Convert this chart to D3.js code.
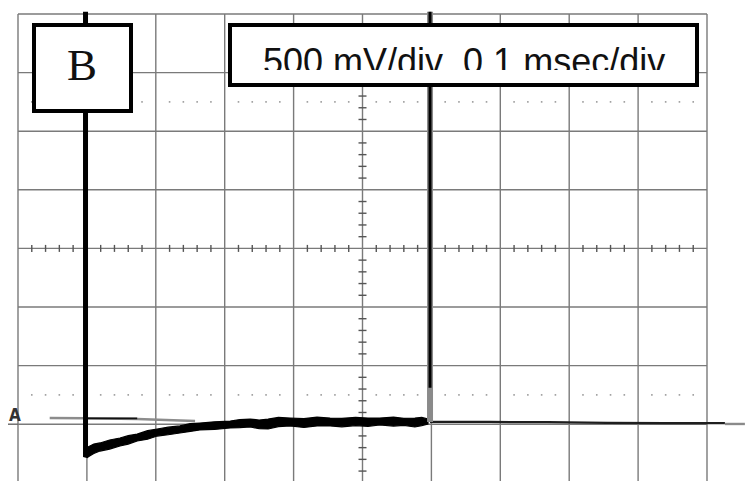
<!DOCTYPE html>
<html><head><meta charset="utf-8">
<script src="https://cdn.jsdelivr.net/npm/d3@7"></script>
<style>html,body{margin:0;padding:0;background:#fff;}svg{display:block;}</style>
</head><body>
<svg id="c" width="745" height="481"></svg>
<script>
// ---- data (time in ms, voltage in V; 500 mV/div, 0.1 ms/div) ----
const stepTime = 0.098;      // falling edge of trace B
const spikeTime = 0.598;     // second spike
const topV = 3.52;           // trace goes off the top of the screen
const stepMinV = -0.28;      // bottom of the negative step
const spikeCoreStartV = 0.31;

// noisy recovery band (upper / lower envelope)
const decayT = [0.1016, 0.110, 0.119, 0.133, 0.148, 0.160, 0.173, 0.188, 0.202, 0.218, 0.235, 0.250, 0.264, 0.285, 0.308, 0.322, 0.337, 0.350, 0.363, 0.378, 0.395, 0.415, 0.434, 0.453, 0.470, 0.490, 0.508, 0.525, 0.545, 0.560, 0.576, 0.586, 0.595];
const decayUpper = [-0.195, -0.170, -0.160, -0.135, -0.118, -0.098, -0.084, -0.055, -0.041, -0.025, -0.015, 0.005, 0.010, 0.020, 0.027, 0.040, 0.044, 0.036, 0.044, 0.058, 0.053, 0.048, 0.060, 0.053, 0.050, 0.058, 0.052, 0.053, 0.060, 0.050, 0.053, 0.058, 0.044];
const decayLower = [-0.280, -0.250, -0.229, -0.212, -0.186, -0.170, -0.143, -0.128, -0.101, -0.090, -0.075, -0.062, -0.049, -0.045, -0.032, -0.030, -0.024, -0.038, -0.041, -0.020, -0.015, -0.028, -0.015, -0.015, -0.022, -0.012, -0.018, -0.007, -0.016, -0.010, -0.024, -0.012, 0.002];

// trace after the spike
const afterT = [0.598, 0.685, 0.769, 0.855, 0.939, 1.026];
const afterV = [0.019, 0.019, 0.017, 0.012, 0.010, 0.010];
const tailT = [1.026, 1.055];
const tailV = [0.002, 0.002];

// reference baseline (gray) and its dark section
const refT = [0.046, 0.098, 0.173, 0.257];
const refV = [0.053, 0.051, 0.045, 0.027];
const refDarkT = [0.098, 0.173];
const refDarkV = [0.050, 0.050];

const groundV = 0;
const cursorV = [0.25, 2.75];   // dotted 0% / 100% lines
const labelB = "B";
const scaleLabel = "500 mV/div  0.1 msec/div";
const markerLabel = "A";

// ---- scales ----
const svg = d3.select("#c");
const x = d3.scaleLinear().domain([0, 1]).range([18, 707]);
const y = d3.scaleLinear().domain([-0.5, 3.5]).range([482.8, 14]);
const xDiv = d3.range(0, 1.0001, 0.1);
const yDiv = d3.range(-0.5, 3.5001, 0.5);
const xMinor = d3.range(0, 1.0001, 0.02);
const yMinor = d3.range(-0.5, 3.5001, 0.1);
const gridCol = "#7a7a7a";

// grid
const g = svg.append("g");
g.selectAll(".vx").data(xDiv).join("line")
  .attr("x1", d => x(d)).attr("x2", d => x(d)).attr("y1", y(3.5)).attr("y2", 481)
  .attr("stroke", gridCol).attr("stroke-width", 1.4);
g.selectAll(".hy").data(yDiv).join("line")
  .attr("y1", d => y(d)).attr("y2", d => y(d)).attr("x1", x(0)).attr("x2", x(1))
  .attr("stroke", gridCol).attr("stroke-width", 1.4);

// dotted cursor lines
cursorV.forEach(v => {
  g.selectAll(null).data(xMinor.filter((d, i) => i % 5 !== 0)).join("rect")
    .attr("x", d => x(d) - 0.8).attr("y", y(v) - 0.8).attr("width", 1.6).attr("height", 1.6)
    .attr("fill", "#9a9a9a");
});

// center axes minor ticks
g.selectAll(null).data(xMinor.filter((d, i) => i % 5 !== 0)).join("line")
  .attr("x1", d => x(d)).attr("x2", d => x(d)).attr("y1", y(1.5) - 3.5).attr("y2", y(1.5) + 3.5)
  .attr("stroke", "#555").attr("stroke-width", 1.4);
g.selectAll(null).data(yMinor.filter((d, i) => i % 5 !== 0)).join("line")
  .attr("y1", d => y(d)).attr("y2", d => y(d)).attr("x1", x(0.5) - 4).attr("x2", x(0.5) + 4)
  .attr("stroke", "#555").attr("stroke-width", 1.4);

// ground marker
svg.append("text").attr("x", 15).attr("y", 421).attr("text-anchor", "middle")
  .attr("font-family", "DejaVu Sans Condensed, DejaVu Sans, sans-serif").attr("font-size", 17).attr("font-weight", "bold")
  .attr("fill", "#333").text(markerLabel);
svg.append("line").attr("x1", 8).attr("x2", x(0)).attr("y1", y(groundV)).attr("y2", y(groundV))
  .attr("stroke", "#666").attr("stroke-width", 1.4);

// reference trace
const line = d3.line().x(d => x(d[0])).y(d => y(d[1]));
svg.append("path").attr("d", line(d3.zip(refT, refV))).attr("fill", "none")
  .attr("stroke", "#8c8c8c").attr("stroke-width", 2.4);
svg.append("path").attr("d", line(d3.zip(refDarkT, refDarkV))).attr("fill", "none")
  .attr("stroke", "#111").attr("stroke-width", 1.6);

// trace after spike
svg.append("path").attr("d", line(d3.zip(afterT, afterV))).attr("fill", "none")
  .attr("stroke", "#1e1e1e").attr("stroke-width", 2.2);
svg.append("path").attr("d", line(d3.zip(tailT, tailV))).attr("fill", "none")
  .attr("stroke", "#8a8a8a").attr("stroke-width", 2.4);

// noisy recovery band
const area = d3.area().x(d => x(d[0])).y0(d => y(d[2])).y1(d => y(d[1]));
svg.append("path").attr("d", area(d3.zip(decayT, decayUpper, decayLower)))
  .attr("fill", "#000").attr("stroke", "#000").attr("stroke-width", 1.2).attr("stroke-linejoin", "miter");

// step of trace B
svg.append("path").attr("d", line([[stepTime, topV], [stepTime, stepMinV], [decayT[0], (decayUpper[0] + decayLower[0]) / 2]]))
  .attr("fill", "none").attr("stroke", "#000").attr("stroke-width", 5);

// spike
svg.append("line").attr("x1", x(spikeTime)).attr("x2", x(spikeTime)).attr("y1", y(afterV[0])).attr("y2", y(topV))
  .attr("stroke", "#8a8a8a").attr("stroke-width", 6);
svg.append("line").attr("x1", x(spikeTime)).attr("x2", x(spikeTime)).attr("y1", y(spikeCoreStartV)).attr("y2", y(topV))
  .attr("stroke", "#000").attr("stroke-width", 3);

// label boxes
svg.append("rect").attr("x", 34).attr("y", 25).attr("width", 97).attr("height", 86)
  .attr("fill", "#fff").attr("stroke", "#000").attr("stroke-width", 4);
svg.append("text").attr("x", 82).attr("y", 80).attr("text-anchor", "middle")
  .attr("font-family", "Liberation Serif, Times New Roman, serif").attr("font-size", 45)
  .attr("fill", "#111").text(labelB);

svg.append("rect").attr("x", 230).attr("y", 25).attr("width", 467).attr("height", 60)
  .attr("fill", "#fff").attr("stroke", "#000").attr("stroke-width", 4);
svg.append("clipPath").attr("id", "tc").append("rect").attr("x", 232).attr("y", 27).attr("width", 463).attr("height", 43);
svg.append("text").attr("x", 263).attr("y", 74).attr("clip-path", "url(#tc)")
  .attr("font-family", "Liberation Sans, Arial, sans-serif").attr("font-size", 36)
  .attr("fill", "#111").attr("xml:space", "preserve").style("white-space", "pre").text(scaleLabel);
</script>
</body></html>
